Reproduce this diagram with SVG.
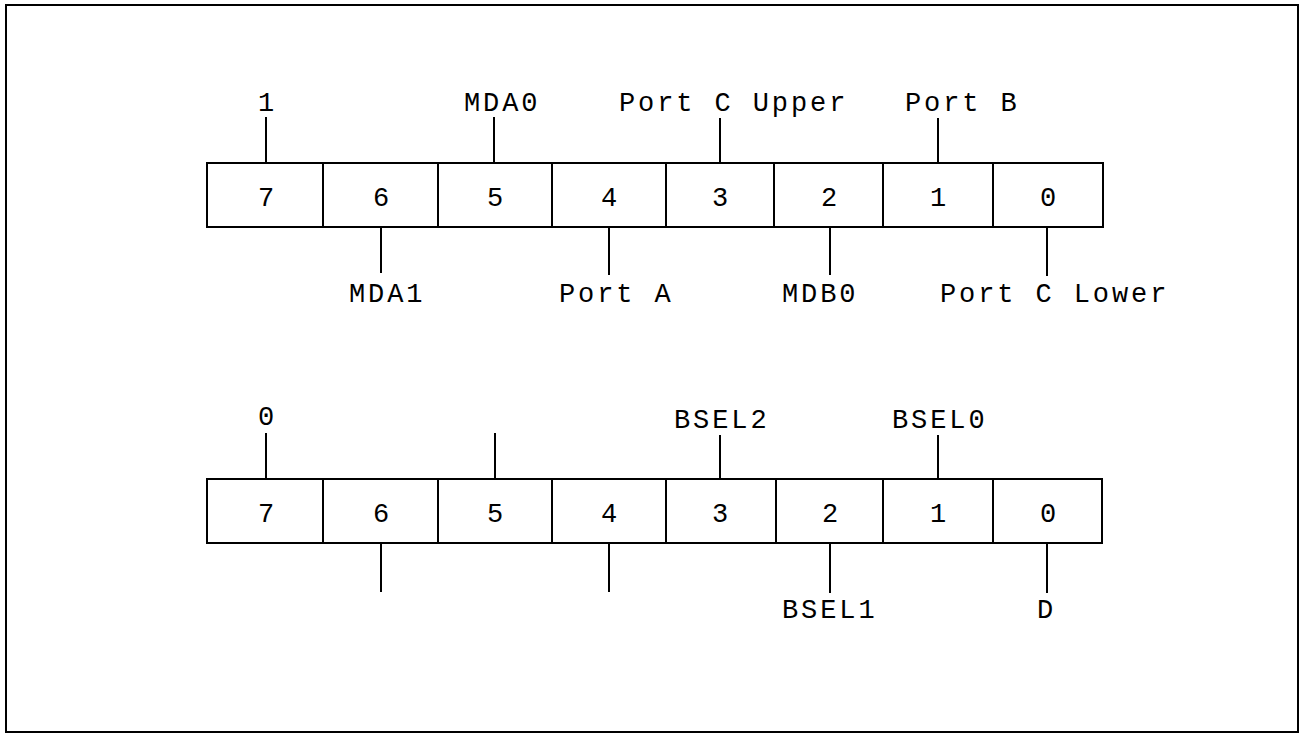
<svg xmlns="http://www.w3.org/2000/svg" width="1304" height="735" viewBox="0 0 1304 735">
<style>
.frame{fill:none;stroke:#000;stroke-width:2}
.cell{fill:#fff;stroke:#000;stroke-width:2}
.tick{stroke:#000;stroke-width:2}
text{font-family:"Liberation Mono","Courier New",monospace;font-size:27px;fill:#000;letter-spacing:2.9px}
.num{text-anchor:middle;letter-spacing:0}
</style>
<rect class="frame" x="6" y="5" width="1292" height="727"/>
<g id="register1">
<g id="r1-bit7"><rect class="cell" x="207" y="163" width="116" height="64"/><text class="num" x="266" y="206">7</text></g>
<g id="r1-bit6"><rect class="cell" x="323" y="163" width="115" height="64"/><text class="num" x="381" y="206">6</text></g>
<g id="r1-bit5"><rect class="cell" x="438" y="163" width="114" height="64"/><text class="num" x="495" y="206">5</text></g>
<g id="r1-bit4"><rect class="cell" x="552" y="163" width="114" height="64"/><text class="num" x="609" y="206">4</text></g>
<g id="r1-bit3"><rect class="cell" x="666" y="163" width="108" height="64"/><text class="num" x="720" y="206">3</text></g>
<g id="r1-bit2"><rect class="cell" x="774" y="163" width="109" height="64"/><text class="num" x="829" y="206">2</text></g>
<g id="r1-bit1"><rect class="cell" x="883" y="163" width="110" height="64"/><text class="num" x="938" y="206">1</text></g>
<g id="r1-bit0"><rect class="cell" x="993" y="163" width="110" height="64"/><text class="num" x="1048" y="206">0</text></g>
</g>
<g id="register2">
<g id="r2-bit7"><rect class="cell" x="207" y="479" width="116" height="64"/><text class="num" x="266" y="522">7</text></g>
<g id="r2-bit6"><rect class="cell" x="323" y="479" width="115" height="64"/><text class="num" x="381" y="522">6</text></g>
<g id="r2-bit5"><rect class="cell" x="438" y="479" width="114" height="64"/><text class="num" x="495" y="522">5</text></g>
<g id="r2-bit4"><rect class="cell" x="552" y="479" width="114" height="64"/><text class="num" x="609" y="522">4</text></g>
<g id="r2-bit3"><rect class="cell" x="666" y="479" width="110" height="64"/><text class="num" x="720" y="522">3</text></g>
<g id="r2-bit2"><rect class="cell" x="776" y="479" width="107" height="64"/><text class="num" x="830" y="522">2</text></g>
<g id="r2-bit1"><rect class="cell" x="883" y="479" width="110" height="64"/><text class="num" x="938" y="522">1</text></g>
<g id="r2-bit0"><rect class="cell" x="993" y="479" width="109" height="64"/><text class="num" x="1048" y="522">0</text></g>
</g>
<g id="connectors">
<line class="tick" x1="266" y1="117" x2="266" y2="163"/>
<line class="tick" x1="494" y1="117" x2="494" y2="163"/>
<line class="tick" x1="720" y1="118" x2="720" y2="163"/>
<line class="tick" x1="938" y1="118" x2="938" y2="163"/>
<line class="tick" x1="381" y1="227" x2="381" y2="273"/>
<line class="tick" x1="609" y1="227" x2="609" y2="275"/>
<line class="tick" x1="830" y1="227" x2="830" y2="275"/>
<line class="tick" x1="1047" y1="227" x2="1047" y2="276"/>
<line class="tick" x1="266" y1="433" x2="266" y2="479"/>
<line class="tick" x1="495" y1="433" x2="495" y2="479"/>
<line class="tick" x1="720" y1="435" x2="720" y2="479"/>
<line class="tick" x1="938" y1="435" x2="938" y2="479"/>
<line class="tick" x1="381" y1="543" x2="381" y2="592"/>
<line class="tick" x1="609" y1="543" x2="609" y2="592"/>
<line class="tick" x1="830" y1="543" x2="830" y2="593"/>
<line class="tick" x1="1047" y1="543" x2="1047" y2="593"/>
</g>
<g id="labels1">
<text x="258" y="111">1</text>
<text x="464" y="111">MDA0</text>
<text x="619" y="111">Port C Upper</text>
<text x="905" y="111">Port B</text>
<text x="349" y="302">MDA1</text>
<text x="559" y="302">Port A</text>
<text x="782" y="302">MDB0</text>
<text x="940" y="302">Port C Lower</text>
</g>
<g id="labels2">
<text x="258" y="425">0</text>
<text x="674" y="428">BSEL2</text>
<text x="892" y="428">BSEL0</text>
<text x="782" y="618">BSEL1</text>
<text x="1037" y="618">D</text>
</g>
</svg>
